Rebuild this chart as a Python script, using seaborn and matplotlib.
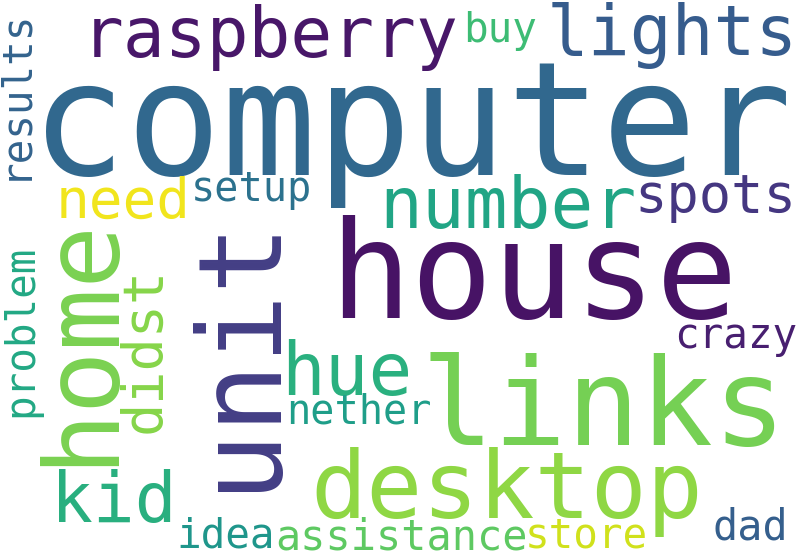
import matplotlib
matplotlib.use("Agg")
import matplotlib.pyplot as plt
import seaborn as sns

# ---- data: words and their relative weights (word-cloud frequencies) ----
words = ["computer", "house", "unit", "links", "home", "desktop", "hue",
         "number", "raspberry", "kid", "lights", "need", "didst", "spots",
         "dad", "assistance", "results", "problem", "idea", "crazy",
         "buy", "store", "setup", "nether"]
weights = [1.00, 0.86, 0.73, 0.77, 0.66, 0.59, 0.46,
           0.45, 0.44, 0.44, 0.44, 0.355, 0.35, 0.34,
           0.265, 0.265, 0.26, 0.26, 0.26, 0.26,
           0.26, 0.26, 0.255, 0.255]

# ---- layout (pixel positions on an 800x560 canvas), orientation, colour ----
BASE_PX = 158  # em size in pixels for weight 1.0
layout_x = [411, 533, 271, 604, 110, 507, 347,
            508, 270, 114, 672, 123.5, 159, 715,
            750, 401, 25, 32, 226, 736,
            500, 586, 251, 359]
layout_y = [175, 318, 352, 445, 340, 518, 395,
            228, 57, 522, 55, 218, 350, 212,
            539, 550, 94, 331, 547, 348,
            42, 547, 201, 424]
rotations = [0, 0, 90, 0, 90, 0, 0,
             0, 0, 0, 0, 0, 90, 0,
             0, 0, 90, 90, 0, 0,
             0, 0, 0, 0]
colors = ["#31688e", "#471365", "#433e85", "#75d054", "#7ad151", "#8fd744", "#2ab07f",
          "#21a585", "#481769", "#29af7f", "#365c8d", "#f1e51d", "#86d549", "#453781",
          "#355f8d", "#5ec962", "#33638d", "#22a884", "#1f968b", "#481f70",
          "#3dbc74", "#d0e11c", "#2c728e", "#1f9e89"]

sns.set_theme(style="white")
plt.rcParams["font.family"] = ["DejaVu Sans Mono", "DejaVu Sans"]

fig = plt.figure(figsize=(8, 5.6), dpi=100)
fig.patch.set_facecolor("white")
ax = fig.add_axes([0, 0, 1, 1])
ax.set_xlim(0, 800)
ax.set_ylim(560, 0)
ax.set_axis_off()

for w, wt, x, y, r, c in zip(words, weights, layout_x, layout_y, rotations, colors):
    px = wt * BASE_PX
    ax.text(x, y, w, fontsize=px * 72 / 100, color=c, rotation=r,
            rotation_mode="anchor", ha="center", va="baseline")

fig.savefig("out.png", dpi=100, facecolor="white")
